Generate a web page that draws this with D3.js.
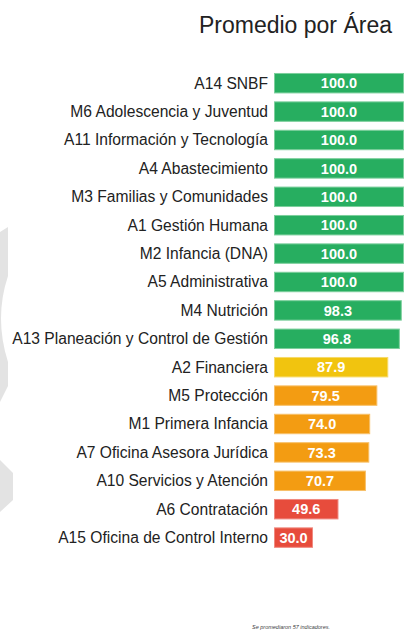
<!DOCTYPE html>
<html><head><meta charset="utf-8">
<script src="https://cdn.jsdelivr.net/npm/d3@7"></script>
<style>html,body{margin:0;padding:0;background:#fff;}svg{display:block;}</style>
</head><body>
<svg id="c" width="404" height="631"></svg>
<script>
const categories = ["A14 SNBF","M6 Adolescencia y Juventud","A11 Información y Tecnología","A4 Abastecimiento","M3 Familias y Comunidades","A1 Gestión Humana","M2 Infancia (DNA)","A5 Administrativa","M4 Nutrición","A13 Planeación y Control de Gestión","A2 Financiera","M5 Protección","M1 Primera Infancia","A7 Oficina Asesora Jurídica","A10 Servicios y Atención","A6 Contratación","A15 Oficina de Control Interno"];
const values = [100.0,100.0,100.0,100.0,100.0,100.0,100.0,100.0,98.3,96.8,87.9,79.5,74.0,73.3,70.7,49.6,30.0];
const thresholds = [60, 80, 90];
const levelColors = ["#e74c3c","#f39c12","#f1c40f","#27ae60"];
const levelStroke = ["#f08a80","#f7c06a","#f6da6a","#7ccf9c"];
const title = "Promedio por Área";
const footnote = "Se promediaron 57 indicadores.";

const svg = d3.select("#c");
const font = "'Liberation Sans', Arial, sans-serif";

// watermark shapes
svg.append("path").attr("d","M0,232 L8,227 L8,276 Q-6,318 8,362 L8,386 L0,402 Z").attr("fill","#e3e3e3");
svg.append("path").attr("d","M0,460 L13,473 L13,500 L0,512 Z").attr("fill","#e3e3e3");

const x = d3.scaleLinear().domain([0,100]).range([274,404]);
const step = 28.4;
const y = d3.scaleBand().domain(categories).range([83.2 - step/2, 83.2 - step/2 + step*categories.length]).paddingInner(0.28).paddingOuter(0.14);
const col = d3.scaleThreshold().domain(thresholds).range(levelColors);
const colS = d3.scaleThreshold().domain(thresholds).range(levelStroke);

svg.append("text").attr("x",392).attr("y",33).attr("text-anchor","end")
  .attr("font-family",font).attr("font-size",23).attr("fill","#222").text(title);

const g = svg.append("g");
const rows = g.selectAll("g.row").data(categories.map((c,i)=>({c,v:values[i]}))).join("g");
rows.append("rect").attr("x",x(0)+0.5).attr("y",d=>y(d.c)+0.5)
  .attr("width",d=>x(d.v)-x(0)-1).attr("height",y.bandwidth()-1)
  .attr("fill",d=>col(d.v)).attr("stroke",d=>colS(d.v)).attr("stroke-width",1);
rows.append("text").attr("x",x(0)-6).attr("y",d=>y(d.c)+y.bandwidth()/2).attr("dy","0.35em")
  .attr("text-anchor","end").attr("font-family",font).attr("font-size",15.6).attr("fill","#222").text(d=>d.c);
rows.append("text").attr("x",d=>(x(0)+x(d.v))/2).attr("y",d=>y(d.c)+y.bandwidth()/2).attr("dy","0.36em")
  .attr("text-anchor","middle").attr("font-family",font).attr("font-weight","bold").attr("font-size",14.5).attr("fill","#fff").text(d=>d.v.toFixed(1));

svg.append("text").attr("x",291).attr("y",629).attr("text-anchor","middle")
  .attr("font-family",font).attr("font-style","italic").attr("font-size",5.5).attr("fill","#444").text(footnote);
</script>
</body></html>
